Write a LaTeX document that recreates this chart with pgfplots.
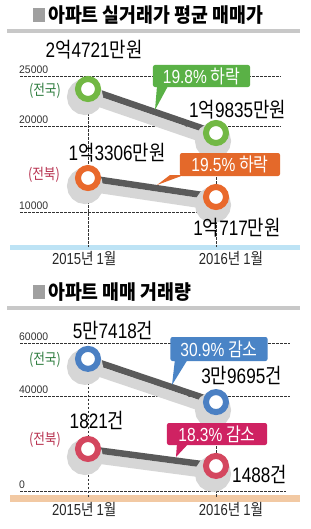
\documentclass[border=0pt]{standalone}
\usepackage{pgfplots}
\pgfplotsset{compat=1.18}
\usepackage{fontspec}
\setmainfont{Noto Sans CJK KR}
\newfontfamily\krc[FakeStretch=0.85]{Noto Sans CJK KR}
\newfontfamily\krt[FakeStretch=0.92]{Noto Sans CJK KR}
\newfontfamily\dg[FakeStretch=0.82]{Liberation Sans}
\newfontfamily\dgt[FakeStretch=0.95]{Liberation Sans}
\newcommand\lbl{\krc\fontsize{21}{21}\selectfont}
\newcommand\boxf{\krc\fontsize{19}{19}\selectfont}
\newcommand\ytk{\dgt\fontsize{11}{11}\selectfont}
\newcommand\xtk{\krc\fontsize{16}{16}\selectfont}
\newcommand\sidef{\krc\fontsize{15}{15}\selectfont}
\newcommand\ttl{\krt\bfseries\fontsize{20}{20}\selectfont}
\newcommand\D[1]{{\dg #1}}
\definecolor{cgreen}{HTML}{72B844}
\definecolor{bgreen}{HTML}{5AB146}
\definecolor{tgreen}{HTML}{2F7D3F}
\definecolor{corange}{HTML}{E9692C}
\definecolor{borange}{HTML}{E4692A}
\definecolor{tred}{HTML}{B83250}
\definecolor{cblue}{HTML}{4B80C3}
\definecolor{bblue}{HTML}{4A84C6}
\definecolor{cred}{HTML}{D4475F}
\definecolor{bred}{HTML}{CF2262}
\definecolor{dline}{HTML}{5A5A5A}
\definecolor{shad}{HTML}{D6D6D6}
\definecolor{sepc}{HTML}{C8C8C8}
\definecolor{tsq}{HTML}{A0A0A0}
\definecolor{blueax}{HTML}{BDE3F5}
\definecolor{tanax}{HTML}{F2C9A3}
\tikzset{gridst/.style={draw=black!80, line width=0.6bp, dash pattern=on 2.5bp off 1.5bp}}
\pgfplotsset{
  myax/.style={scale only axis, width=270bp, xmin=-0.53125, xmax=1.578125,
    axis x line*=bottom, axis y line*=left, axis line style={draw=none},
    major tick length=0pt, clip=false, scaled y ticks=false,
    xtick={-0.03,1.117}, xticklabels={{\D{2015}년 \D{1}월},{\D{2016}년 \D{1}월}},
    xticklabel style={font=\xtk, anchor=north, inner sep=0pt, yshift=-4bp, text=black!85},
    yticklabel style={font=\ytk, anchor=south west, inner sep=0pt, yshift=2.5bp, xshift=-1bp, text=black!80}},
  shadowst/.style={draw=shad, line width=10bp, xshift=-3bp, yshift=-8bp, mark=*, mark size=13bp,
    mark options={draw=none, fill=shad}},
  mainst/.style={draw=dline, line width=6.5bp, mark=*, mark size=10bp,
    mark options={fill=white, draw=#1, line width=6bp}}
}
\begin{document}
\begin{tikzpicture}
\useasboundingbox (0,0) rectangle (311bp,-529bp);
\fill[white] (0,0) rectangle (311bp,-529bp);
\begin{scope}[x=1bp,y=-1bp]
  \fill[tsq] (33,8) rectangle (45,22);
  \node[anchor=west, inner sep=0] at (48,15.5) {\ttl 아파트 실거래가 평균 매매가};
  \fill[sepc] (7,29) rectangle (300,32.5);
  \fill[blueax] (10,244.5) rectangle (300,249.5);
  \fill[tsq] (33,285) rectangle (45,299);
  \node[anchor=west, inner sep=0] at (48,292) {\ttl 아파트 매매 거래량};
  \fill[sepc] (7,306) rectangle (300,309.5);
  \fill[tanax] (10,495) rectangle (300,501.5);
\end{scope}

% ---------------- top chart: average price (position scale 100 per px)
\begin{axis}[myax, at={(20bp,-247bp)}, anchor=south west, height=187bp,
  ymin=7900, ymax=26600,
  ytick={11400,20000,25000}, yticklabels={10000,20000,25000}]
  \draw[gridst] (axis cs:-0.53125,25000) -- (axis cs:1.508,25000);
  \draw[gridst] (axis cs:-0.53125,20000) -- (axis cs:1.508,20000);
  \draw[gridst] (axis cs:-0.53125,11400) -- (axis cs:0.914,11400);
  \draw[gridst] (axis cs:0,23700) -- (axis cs:0,7900);
  \draw[gridst] (axis cs:1,19300) -- (axis cs:1,7900);
  \addplot[shadowst] coordinates {(0,23700) (1,19300)};
  \addplot[shadowst] coordinates {(0,14800) (1,12900)};
  \addplot[mainst=cgreen] coordinates {(0,23700) (1,19300)};
  \addplot[mainst=corange] coordinates {(0,14800) (1,12900)};
\end{axis}

% ---------------- bottom chart: volume
\begin{axis}[myax, at={(20bp,-498bp)}, anchor=south west, height=173.04bp,
  ymin=1500, ymax=66800,
  ytick={4150,40000,60000}, yticklabels={0,40000,60000}]
  \draw[gridst] (axis cs:-0.53125,60000) -- (axis cs:1.578,60000);
  \draw[gridst] (axis cs:-0.53125,40000) -- (axis cs:1.578,40000);
  \draw[gridst] (axis cs:-0.53125,4150) -- (axis cs:1.55,4150);
  \draw[gridst] (axis cs:0,54000) -- (axis cs:0,1500);
  \draw[gridst] (axis cs:1,37700) -- (axis cs:1,1500);
  \addplot[shadowst] coordinates {(0,54000) (1,37700)};
  \addplot[shadowst] coordinates {(0,20000) (1,13600)};
  \addplot[mainst=cblue] coordinates {(0,54000) (1,37700)};
  \addplot[mainst=cred] coordinates {(0,20000) (1,13600)};
\end{axis}

\begin{scope}[x=1bp,y=-1bp]
  % side labels
  \node[inner sep=0, text=tgreen] at (45,90.5) {\sidef (전국)};
  \node[inner sep=0, text=tred] at (44,175) {\sidef (전북)};
  \node[inner sep=0, text=tgreen] at (45,360) {\sidef (전국)};
  \node[inner sep=0, text=tred] at (45,439.5) {\sidef (전북)};
  % value labels
  \node[anchor=base, inner sep=0] at (94,57.5) {\lbl \D{2}억\D{4721}만원};
  \node[anchor=base, inner sep=0] at (237.5,117) {\lbl \D{1}억\D{9835}만원};
  \node[anchor=base, inner sep=0] at (117,160.5) {\lbl \D{1}억\D{3306}만원};
  \node[anchor=base, inner sep=0] at (237,235) {\lbl \D{1}억\D{717}만원};
  \node[anchor=base, inner sep=0] at (113,338) {\lbl \D{5}만\D{7418}건};
  \node[anchor=base, inner sep=0] at (241.5,383) {\lbl \D{3}만\D{9695}건};
  \node[anchor=base, inner sep=0] at (97,428) {\lbl \D{1821}건};
  \node[anchor=base, inner sep=0] at (259.5,482) {\lbl \D{1488}건};
  % callouts
  \fill[bgreen] (157,86) -- (168,86) -- (155,110) -- cycle;
  \node[fill=bgreen, rounded corners=2bp, inner sep=0, minimum width=97bp, minimum height=22bp, text=white] at (201.5,76) {\boxf \D{19.8\%} 하락};
  \fill[borange] (170,175) -- (184,175) -- (157,185) -- cycle;
  \node[fill=borange, rounded corners=2bp, inner sep=0, minimum width=100bp, minimum height=23bp, text=white] at (230,164.5) {\boxf \D{19.5\%} 하락};
  \fill[bblue] (175,359) -- (188,359) -- (172,385) -- cycle;
  \node[fill=bblue, rounded corners=2bp, inner sep=0, minimum width=97bp, minimum height=24bp, text=white] at (219,349) {\boxf \D{30.9\%} 감소};
  \fill[bred] (177,443) -- (189,443) -- (176,457) -- cycle;
  \node[fill=bred, rounded corners=2bp, inner sep=0, minimum width=100bp, minimum height=22bp, text=white] at (217,434) {\boxf \D{18.3\%} 감소};
\end{scope}
\end{tikzpicture}
\end{document}
